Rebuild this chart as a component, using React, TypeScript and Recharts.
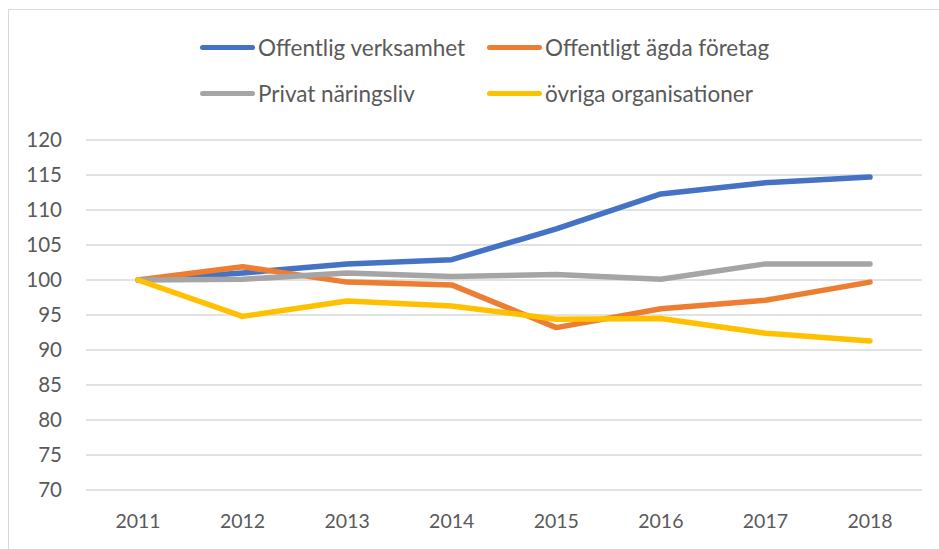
import React from 'react';
import { LineChart, Line, XAxis, YAxis, CartesianGrid } from 'recharts';

const years = ['2011', '2012', '2013', '2014', '2015', '2016', '2017', '2018'];
const offentligVerksamhet = [100, 101.0, 102.3, 102.9, 107.3, 112.3, 113.9, 114.7];
const offentligtAgdaForetag = [100, 101.9, 99.7, 99.3, 93.2, 95.9, 97.1, 99.7];
const privatNaringsliv = [100, 100.1, 101.0, 100.5, 100.8, 100.1, 102.3, 102.3];
const ovrigaOrganisationer = [100, 94.8, 97.0, 96.3, 94.4, 94.5, 92.4, 91.3];
const yTicks = [70, 75, 80, 85, 90, 95, 100, 105, 110, 115, 120];

const series = [
  { key: 'a', name: 'Offentlig verksamhet', color: '#4472C4', values: offentligVerksamhet },
  { key: 'b', name: 'Offentligt ägda företag', color: '#ED7D31', values: offentligtAgdaForetag },
  { key: 'c', name: 'Privat näringsliv', color: '#A5A5A5', values: privatNaringsliv },
  { key: 'd', name: 'övriga organisationer', color: '#FFC000', values: ovrigaOrganisationer },
];

const data = years.map((year, i) => {
  const row: Record<string, string | number> = { year };
  series.forEach((s) => (row[s.key] = s.values[i]));
  return row;
});

const font = 'Lato, "Noto Sans", sans-serif';
const textColor = '#595959';

function LegendBox() {
  // two columns, two rows like the Excel legend
  const pos = [
    { left: 191, top: 24 },
    { left: 478, top: 24 },
    { left: 191, top: 70 },
    { left: 478, top: 70 },
  ];
  return (
    <>
      {series.map((s, i) => (
        <div
          key={s.key}
          style={{
            position: 'absolute',
            left: pos[i].left,
            top: pos[i].top,
            display: 'flex',
            alignItems: 'center',
            height: 26,
            fontFamily: font,
            fontSize: 22.5,
            color: textColor,
            whiteSpace: 'nowrap',
          }}
        >
          <span
            style={{
              display: 'inline-block',
              width: 55,
              height: 5,
              borderRadius: 3,
              background: s.color,
              marginRight: 3,
            }}
          />
          {s.name}
        </div>
      ))}
    </>
  );
}

export default function App() {
  return (
    <div
      style={{
        position: 'fixed',
        left: 8,
        top: 9,
        width: 930,
        height: 539,
        borderLeft: '1px solid #D9D9D9',
        borderTop: '1px solid #D9D9D9',
        background: '#fff',
      }}
    >
      <LegendBox />
      <LineChart
        width={930}
        height={539}
        data={data}
        margin={{ top: 130, right: 17, left: 0, bottom: 19 }}
      >
        <CartesianGrid vertical={false} stroke="#D9D9D9" strokeWidth={1.5} />
        <XAxis
          dataKey="year"
          axisLine={false}
          tickLine={false}
          tickSize={0}
          tickMargin={24}
          padding={{ left: 52, right: 52 }}
          interval={0}
          height={40}
          tick={{ fill: textColor, fontSize: 19.5, fontFamily: font }}
        />
        <YAxis
          domain={[70, 120]}
          ticks={yTicks}
          interval={0}
          axisLine={false}
          tickLine={false}
          tickSize={0}
          tickMargin={24}
          width={77}
          tick={{ fill: textColor, fontSize: 20.5, fontFamily: font }}
        />
        {series.map((s) => (
          <Line
            key={s.key}
            type="linear"
            dataKey={s.key}
            name={s.name}
            stroke={s.color}
            strokeWidth={5.5}
            strokeLinecap="round"
            strokeLinejoin="round"
            dot={false}
            activeDot={false}
            isAnimationActive={false}
          />
        ))}
      </LineChart>
    </div>
  );
}
